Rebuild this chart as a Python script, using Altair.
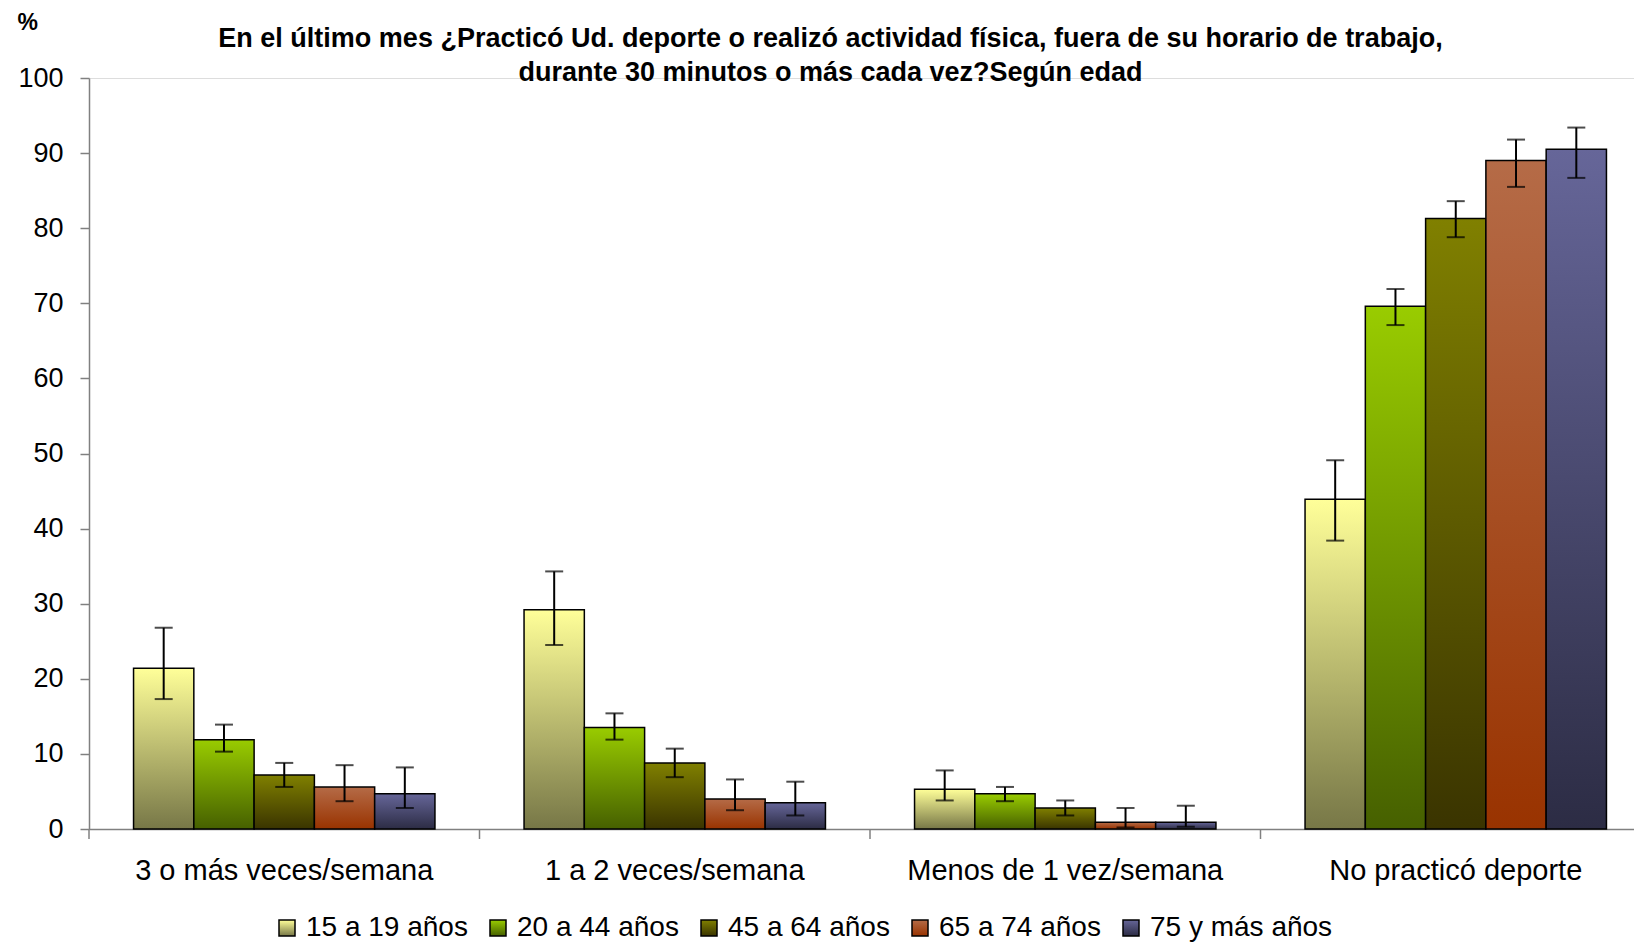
import altair as alt
import pandas as pd

categories = ["3 o más veces/semana", "1 a 2 veces/semana", "Menos de 1 vez/semana", "No practicó deporte"]
ages = ["15 a 19 años", "20 a 44 años", "45 a 64 años", "65 a 74 años", "75 y más años"]

# values per age group, in category order
v_15_19 = [21.4, 29.2, 5.3, 43.9]
v_20_44 = [11.9, 13.5, 4.7, 69.6]
v_45_64 = [7.2, 8.8, 2.8, 81.3]
v_65_74 = [5.6, 4.0, 0.9, 89.0]
v_75 = [4.7, 3.5, 0.9, 90.5]

lo_15_19 = [17.3, 24.5, 3.8, 38.4]
lo_20_44 = [10.3, 11.9, 3.7, 67.1]
lo_45_64 = [5.6, 6.9, 1.8, 78.8]
lo_65_74 = [3.7, 2.5, 0.2, 85.5]
lo_75 = [2.8, 1.8, 0.3, 86.7]

hi_15_19 = [26.8, 34.3, 7.8, 49.1]
hi_20_44 = [13.9, 15.4, 5.6, 71.9]
hi_45_64 = [8.8, 10.7, 3.8, 83.6]
hi_65_74 = [8.5, 6.6, 2.8, 91.8]
hi_75 = [8.2, 6.3, 3.1, 93.4]

grad_tops = ["#ffff99", "#99cc00", "#808000", "#b56b47", "#666699"]
grad_bottoms = ["#777747", "#466000", "#3a3400", "#993300", "#2c2c44"]

vals = [v_15_19, v_20_44, v_45_64, v_65_74, v_75]
los = [lo_15_19, lo_20_44, lo_45_64, lo_65_74, lo_75]
his = [hi_15_19, hi_20_44, hi_45_64, hi_65_74, hi_75]

rows = []
for a, age in enumerate(ages):
    for c, cat in enumerate(categories):
        rows.append({"cat": cat, "age": age, "value": vals[a][c], "lo": los[a][c], "hi": his[a][c]})
df = pd.DataFrame(rows)
cats_df = pd.DataFrame({"cat": categories})

FONT = "Liberation Sans"

def grad(top, bottom):
    return alt.ExprRef(expr=(
        "{gradient: 'linear', x1: 0, y1: 0, x2: 0, y2: 1, stops: ["
        f"{{offset: 0, color: '{top}'}}, {{offset: 1, color: '{bottom}'}}]}}"
    ))

fill_scale = alt.Scale(domain=ages, range=[grad(t, b) for t, b in zip(grad_tops, grad_bottoms)])

x_enc = alt.X("cat:N", sort=categories,
              scale=alt.Scale(paddingInner=0, paddingOuter=0, range=[0, 1562]),
              axis=alt.Axis(title=None, ticks=False, labelFontSize=29, labelFont=FONT,
                            labelColor="black", labelPadding=27, labelAngle=0,
                            domainColor="#808080", domainWidth=1.5, labelLimit=400))
xo_enc = alt.XOffset("age:N", sort=ages, scale=alt.Scale(paddingInner=0, paddingOuter=0.739))
y_scale = alt.Scale(domain=[0, 100], nice=False)

base = alt.Chart(df)

bars = base.mark_bar(stroke="black", strokeWidth=1.5).encode(
    x=x_enc,
    xOffset=xo_enc,
    y=alt.Y("value:Q", scale=y_scale,
            axis=alt.Axis(title="%", titleAngle=0, titleAlign="left", titleBaseline="alphabetic",
                          titleX=-72, titleY=-49, titleFontSize=23, titleFont=FONT,
                          titleFontWeight="bold", titleColor="black",
                          values=list(range(0, 101, 10)), grid=False, tickSize=9,
                          tickColor="#808080", tickWidth=1.5, domainColor="#808080",
                          domainWidth=1.5, labelFontSize=27, labelFont=FONT,
                          labelColor="black", labelPadding=17)),
    fill=alt.Fill("age:N", sort=ages, scale=fill_scale,
                  legend=alt.Legend(title=None, orient="none", direction="horizontal",
                                    legendX=184, legendY=836, symbolType="square",
                                    symbolSize=256, symbolStrokeColor="black",
                                    symbolStrokeWidth=1.5, symbolOpacity=1,
                                    labelFontSize=28, labelFont=FONT, labelColor="black",
                                    labelOffset=5, columnPadding=16, padding=0,
                                    labelLimit=400)),
)

err = base.mark_rule(color="black", strokeWidth=2).encode(
    x=alt.X("cat:N", sort=categories), xOffset=alt.XOffset("age:N", sort=ages),
    y=alt.Y("lo:Q"), y2="hi:Q")
cap_hi = base.mark_tick(color="black", thickness=2, size=18, orient="horizontal").encode(
    x=alt.X("cat:N", sort=categories), xOffset=alt.XOffset("age:N", sort=ages), y="hi:Q")
cap_lo = base.mark_tick(color="black", thickness=2, size=18, orient="horizontal").encode(
    x=alt.X("cat:N", sort=categories), xOffset=alt.XOffset("age:N", sort=ages), y="lo:Q")

seps = alt.Chart(cats_df).mark_rule(color="#808080", strokeWidth=1.5, y2Offset=10).encode(
    x=alt.X("cat:N", sort=categories, bandPosition=0),
    y=alt.datum(0), y2=alt.datum(0))

title = alt.TitleParams(
    text=["En el último mes ¿Practicó Ud. deporte o realizó actividad física, fuera de su horario de trabajo,",
          "durante 30 minutos o más cada vez?Según edad"],
    fontSize=27, fontWeight="bold", font=FONT, color="black", anchor="middle",
    lineHeight=34.5, baseline="bottom", offset=-103, dx=-31)

chart = alt.layer(bars, err, cap_hi, cap_lo, seps).properties(
    width=1545, height=751, title=title,
    autosize=alt.AutoSizeParams(type="none"),
    padding={"left": 81, "top": 70, "right": 0, "bottom": 115},
).configure_view(stroke=None).configure(background="white")

chart.save("out.html", embed_options={"renderer": "svg", "actions": False})
